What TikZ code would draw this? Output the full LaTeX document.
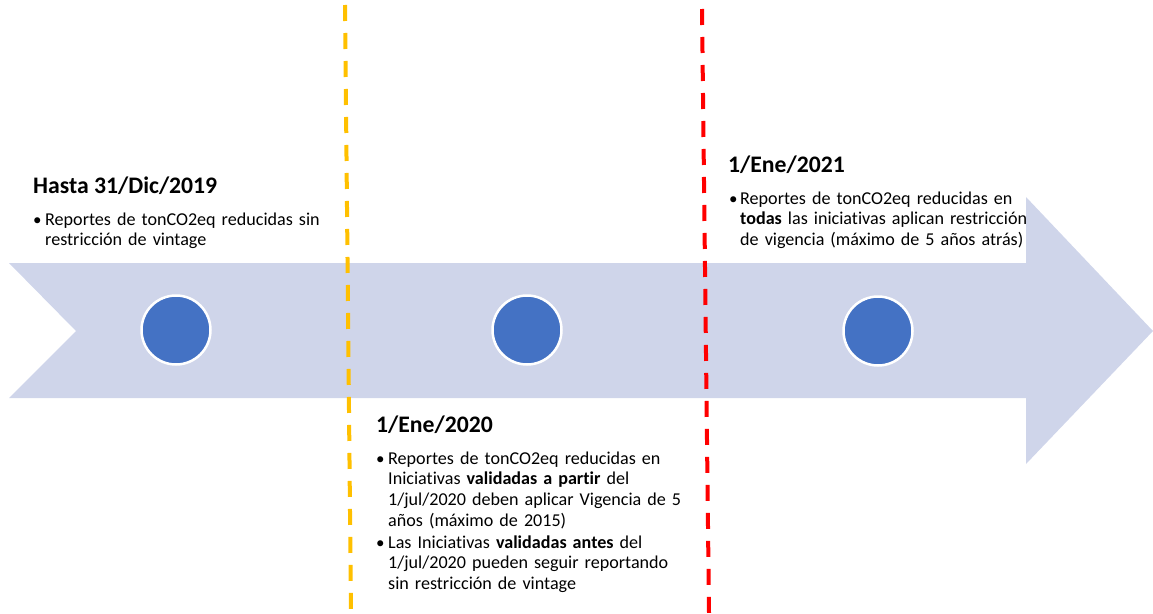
\documentclass[tikz,border=0pt]{standalone}
\usepackage{fontspec}
\setmainfont[Ligatures=NoCommon]{Carlito}
\begin{document}
\begin{tikzpicture}[x=1pt,y=-1pt,
  title/.style={anchor=base west,inner sep=0pt,font=\fontsize{23.7}{26}\selectfont\bfseries},
  body/.style={anchor=base west,inner sep=0pt,align=left,text width=#1,font=\fontsize{18.1}{20.7}\selectfont},
  bul/.style={anchor=base west,inner sep=0pt,font=\fontsize{17}{20.7}\selectfont},
  dot/.style={circle,fill=dotblue,draw=white,line width=2.5pt,minimum size=69pt,inner sep=0pt},
  marker/.style={line width=4pt,dash pattern=on 16pt off 12pt}]
\definecolor{arrowfill}{HTML}{CFD5EA}
\definecolor{dotblue}{HTML}{4472C4}
\definecolor{ylw}{HTML}{FFC000}
\definecolor{rd}{HTML}{FF0000}
\useasboundingbox (0,0) rectangle (1153,613);
% arrow
\fill[arrowfill] (9,263) -- (1026,263) -- (1026,197) -- (1153,331) -- (1026,464) -- (1026,398) -- (9,398) -- (76,331) -- cycle;
% circles
\node[dot] (c1) at (176,330) {};
\node[dot] (c2) at (527,330) {};
\node[dot] (c3) at (878,331) {};
% dashed markers
\coordinate (y1) at (345,5);
\coordinate (y2) at (351,613);
\coordinate (r1) at (702,9);
\coordinate (r2) at (709,613);
\draw[marker,ylw] (y1) -- (y2);
\draw[marker,rd] (r1) -- (r2);
% block 1
\node[title] (t1) at (33,193) {Hasta 31/Dic/2019};
\node[bul] (b1) at (33,225) {\textbullet};
\node[body=320pt] (p1) at (45,225) {Reportes de tonCO2eq reducidas sin\\restricción de vintage};
% block 2
\node[title] (t2) at (376,432) {1/Ene/2020};
\node[bul] (b2) at (376,464) {\textbullet};
\node[body=330pt] (p2) at (388,464) {Reportes de tonCO2eq reducidas en\\Iniciativas \textbf{validadas a partir} del\\1/jul/2020 deben aplicar Vigencia de 5\\años (máximo de 2015)};
\node[bul] (b3) at (376,548) {\textbullet};
\node[body=330pt] (p3) at (388,548) {Las Iniciativas \textbf{validadas antes} del\\1/jul/2020 pueden seguir reportando\\sin restricción de vintage};
% block 3
\node[title] (t3) at (728,172) {1/Ene/2021};
\node[bul] (b4) at (729,204) {\textbullet};
\node[body=330pt] (p4) at (740,204) {Reportes de tonCO2eq reducidas en\\\textbf{todas} las iniciativas aplican restricción\\de vigencia (máximo de 5 años atrás)};
\end{tikzpicture}
\end{document}
